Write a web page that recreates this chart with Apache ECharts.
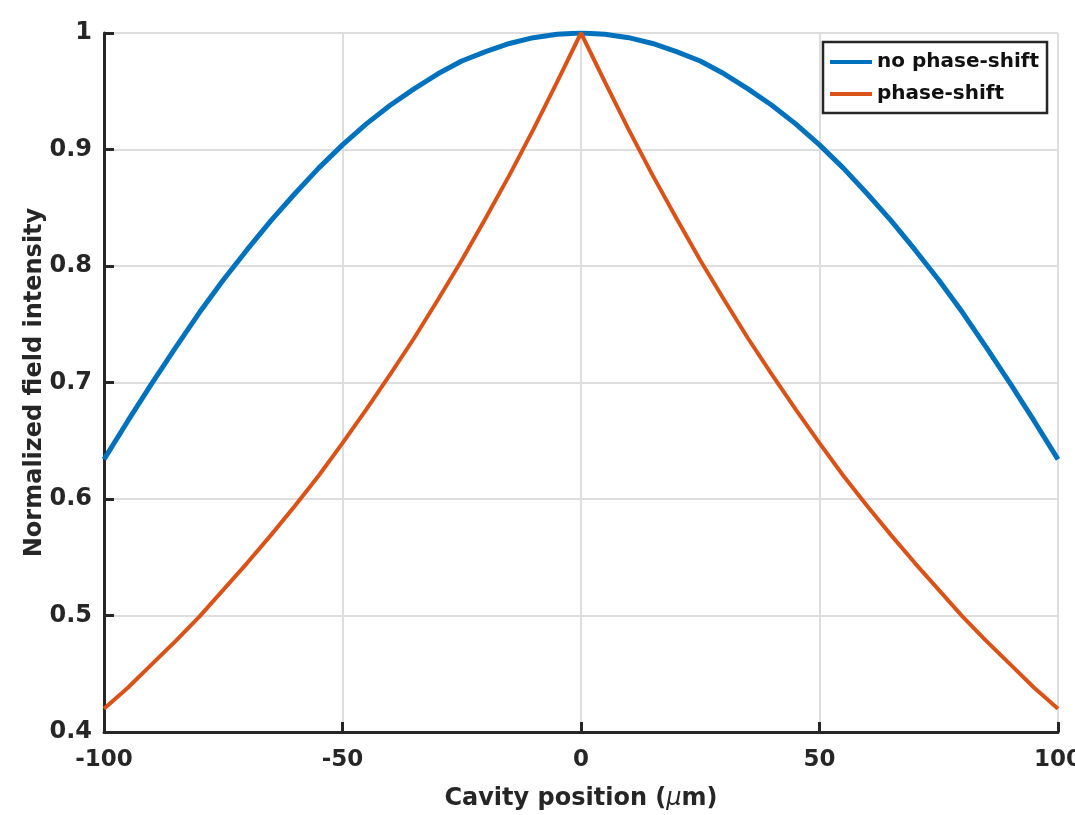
<!DOCTYPE html>
<html>
<head>
<meta charset="utf-8">
<title>Normalized field intensity</title>
<script src="https://cdn.jsdelivr.net/npm/echarts@6/dist/echarts.min.js"></script>
<style>
  html, body { margin: 0; padding: 0; background: #fff; }
  #chart { width: 1075px; height: 815px; }
</style>
</head>
<body>
<div id="chart"></div>
<script>
// cavity positions (um), every 5 um
const positions = [
  -100, -95, -90, -85, -80, -75, -70, -65, -60, -55, -50,
  -45, -40, -35, -30, -25, -20, -15, -10, -5, 0,
  5, 10, 15, 20, 25, 30, 35, 40, 45, 50,
  55, 60, 65, 70, 75, 80, 85, 90, 95, 100
];

// no phase-shift
const noShift = [
  0.634, 0.667, 0.699, 0.730, 0.760, 0.788, 0.814, 0.839, 0.862, 0.884, 0.904,
  0.922, 0.938, 0.952, 0.965, 0.976, 0.984, 0.991, 0.996, 0.999, 1.000,
  0.999, 0.996, 0.991, 0.984, 0.976, 0.965, 0.952, 0.938, 0.922, 0.904,
  0.884, 0.862, 0.839, 0.814, 0.788, 0.760, 0.730, 0.699, 0.667, 0.634
];

// phase-shift
const withShift = [
  0.420, 0.438, 0.458, 0.478, 0.499, 0.522, 0.545, 0.569, 0.594, 0.620, 0.648,
  0.677, 0.707, 0.738, 0.771, 0.805, 0.841, 0.878, 0.917, 0.958, 1.000,
  0.958, 0.917, 0.878, 0.841, 0.805, 0.771, 0.738, 0.707, 0.677, 0.648,
  0.620, 0.594, 0.569, 0.545, 0.522, 0.499, 0.478, 0.458, 0.438, 0.420
];

const seriesNames = ['no phase-shift', 'phase-shift'];
const seriesColors = ['#0072BD', '#D95319'];

const FONT = 'DejaVu Sans';
const AXIS_COLOR = '#262626';
const GRID_COLOR = '#dedede';

const toPairs = (ys) => positions.map((x, i) => [x, ys[i]]);

const chart = echarts.init(document.getElementById('chart'), null, { renderer: 'canvas' });

chart.setOption({
  backgroundColor: '#ffffff',
  animation: false,
  grid: { left: 104, right: 17, top: 33, bottom: 83, containLabel: false, outerBoundsMode: 'none' },
  legend: {
    orient: 'vertical',
    left: 823,
    top: 42,
    padding: [9, 8, 8, 7],
    itemGap: 10,
    itemWidth: 42,
    itemHeight: 4,
    icon: 'rect',
    borderColor: AXIS_COLOR,
    borderWidth: 2.5,
    backgroundColor: '#ffffff',
    textStyle: { fontFamily: FONT, fontWeight: 'bold', fontSize: 20, color: '#111', lineHeight: 22 },
    data: seriesNames
  },
  xAxis: {
    type: 'value',
    min: -100,
    max: 100,
    interval: 50,
    name: 'Cavity position ({i|μ}m)',
    nameLocation: 'middle',
    nameGap: 55,
    nameMoveOverlap: false,
    nameTextStyle: {
      fontFamily: FONT, fontWeight: 'bold', fontSize: 24, color: '#262626',
      rich: { i: { fontFamily: FONT, fontStyle: 'italic', fontWeight: 'normal', fontSize: 24, color: '#262626' } }
    },
    axisLine: { show: true, onZero: false, lineStyle: { color: AXIS_COLOR, width: 3 } },
    axisTick: { show: true, inside: true, length: 10, lineStyle: { color: AXIS_COLOR, width: 3 } },
    axisLabel: { margin: 17, fontFamily: FONT, fontWeight: 'bold', fontSize: 23, color: '#262626' },
    splitLine: { show: true, lineStyle: { color: GRID_COLOR, width: 2 } }
  },
  yAxis: {
    type: 'value',
    min: 0.4,
    max: 1,
    interval: 0.1,
    name: 'Normalized field intensity',
    nameLocation: 'middle',
    nameGap: 57,
    nameMoveOverlap: false,
    nameTextStyle: { fontFamily: FONT, fontWeight: 'bold', fontSize: 24, color: '#262626' },
    axisLine: { show: true, onZero: false, lineStyle: { color: AXIS_COLOR, width: 3 } },
    axisTick: { show: true, inside: true, length: 10, lineStyle: { color: AXIS_COLOR, width: 3 } },
    axisLabel: { margin: 12, fontFamily: FONT, fontWeight: 'bold', fontSize: 24, color: '#262626' },
    splitLine: { show: true, lineStyle: { color: GRID_COLOR, width: 2 } }
  },
  series: [
    {
      name: seriesNames[0],
      type: 'line',
      data: toPairs(noShift),
      showSymbol: false,
      color: seriesColors[0],
      lineStyle: { width: 5, color: seriesColors[0] }
    },
    {
      name: seriesNames[1],
      type: 'line',
      data: toPairs(withShift),
      showSymbol: false,
      color: seriesColors[1],
      lineStyle: { width: 4, color: seriesColors[1] }
    }
  ]
});

window.addEventListener('resize', () => chart.resize());
</script>
</body>
</html>
